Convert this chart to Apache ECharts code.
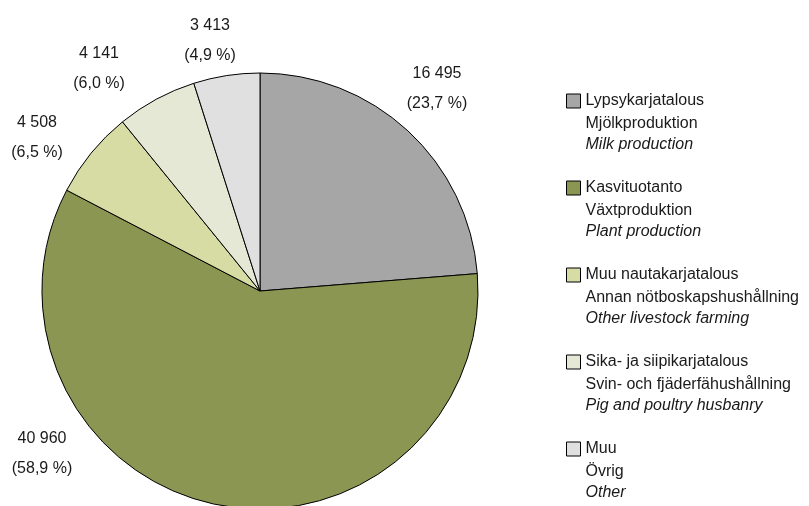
<!DOCTYPE html>
<html>
<head>
<meta charset="utf-8">
<script src="https://cdn.jsdelivr.net/npm/echarts@6/dist/echarts.min.js"></script>
<style>
  html, body { margin: 0; padding: 0; background: #fff; }
  #chart { width: 809px; height: 506px; }
</style>
</head>
<body>
<div id="chart"></div>
<script>
// categories (fi / sv / en) and values
const namesFi = ['Lypsykarjatalous', 'Kasvituotanto', 'Muu nautakarjatalous', 'Sika- ja siipikarjatalous', 'Muu']
const namesSv = ['Mjölkproduktion', 'Växtproduktion', 'Annan nötboskapshushållning', 'Svin- och fjäderfähushållning', 'Övrig']
const namesEn = ['Milk production', 'Plant production', 'Other livestock farming', 'Pig and poultry husbanry', 'Other']
const values = [16495, 40960, 4508, 4141, 3413]
const colors = ['#a6a6a6', '#8b9653', '#d6dca4', '#e6e8d6', '#dfe0df']

// where each value label sits (centre of the two-line block)
const labelPos = [[437, 89], [42, 454], [37, 138], [99, 69], [210, 41]]

const total = values.reduce((a, b) => a + b, 0)
const fmtNum = (v) => String(v).replace(/\B(?=(\d{3})+(?!\d))/g, ' ')
const fmtPct = (v) => (v / total * 100).toFixed(1).replace('.', ',') + ' %'

const font = 'Liberation Sans, Arial, sans-serif'
const chart = echarts.init(document.getElementById('chart'))

chart.setOption({
  animation: false,
  color: colors,
  legend: {
    orient: 'vertical',
    left: 566,
    top: 61,
    padding: 0,
    itemWidth: 14,
    itemHeight: 14,
    itemGap: -5,
    icon: 'rect',
    itemStyle: { borderColor: '#000', borderWidth: 1 },
    data: namesFi,
    formatter: (name) => {
      const i = namesFi.indexOf(name)
      return '{s| }\n{a|' + name + '}\n{b|' + namesSv[i] + '}\n{c|' + namesEn[i] + '}'
    },
    textStyle: {
      fontFamily: font,
      fontSize: 16,
      color: '#1a1a1a',
      rich: {
        s: { lineHeight: 42, fontSize: 16 },
        a: { lineHeight: 22, fontSize: 16, fontFamily: font, color: '#1a1a1a' },
        b: { lineHeight: 24, fontSize: 16, fontFamily: font, color: '#1a1a1a' },
        c: { lineHeight: 18, fontSize: 16, fontFamily: font, color: '#1a1a1a', fontStyle: 'italic' }
      }
    }
  },
  series: [{
    type: 'pie',
    center: [260, 291],
    radius: 218,
    startAngle: 90,
    clockwise: true,
    avoidLabelOverlap: false,
    itemStyle: { borderColor: '#000', borderWidth: 1 },
    emphasis: { disabled: true },
    label: {
      show: true,
      position: 'outside',
      fontFamily: font,
      fontSize: 16,
      lineHeight: 30,
      color: '#1a1a1a',
      align: 'center',
      formatter: (p) => fmtNum(p.value) + '\n(' + fmtPct(p.value) + ')'
    },
    labelLine: { show: false },
    labelLayout: (p) => ({
      x: labelPos[p.dataIndex][0],
      y: labelPos[p.dataIndex][1],
      align: 'center',
      verticalAlign: 'middle'
    }),
    data: namesFi.map((n, i) => ({ name: n, value: values[i] }))
  }]
})
</script>
</body>
</html>
